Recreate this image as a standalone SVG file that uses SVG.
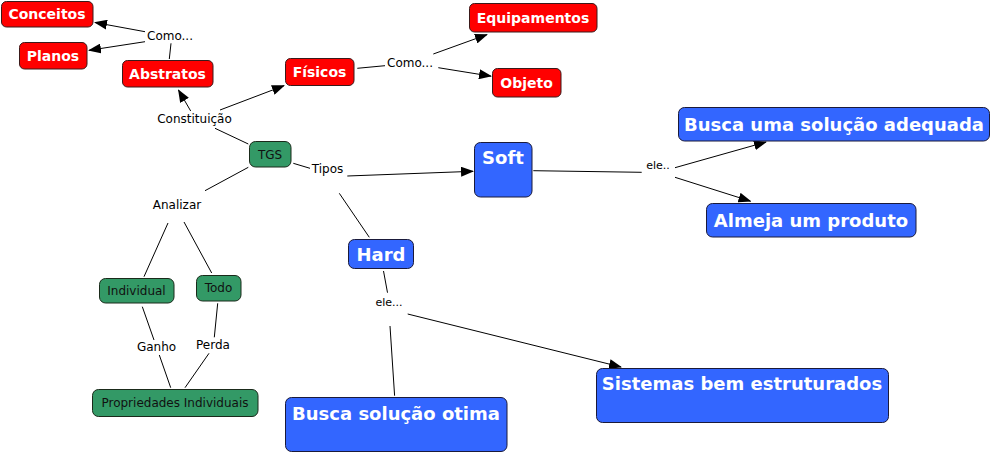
<svg xmlns="http://www.w3.org/2000/svg" width="995" height="455" viewBox="0 0 995 455">
<defs>
<marker id="ah" markerWidth="13" markerHeight="10" refX="12" refY="5" orient="auto" markerUnits="userSpaceOnUse">
<path d="M0,0 L13,5 L0,10 Z" fill="#000"/>
</marker>
</defs>
<style>
.red{fill:#ff0000;stroke:#3a1a1a;stroke-width:1}
.grn{fill:#339966;stroke:#1a2a1a;stroke-width:1}
.blu{fill:#3366ff;stroke:#1a1a3a;stroke-width:1}
.rt{font-family:"DejaVu Sans",Verdana,sans-serif;font-weight:bold;font-size:14px;fill:#fff;text-anchor:middle}
.bt{font-family:"DejaVu Sans",Verdana,sans-serif;font-weight:bold;font-size:18px;fill:#fff;text-anchor:middle}
.gt{font-family:"DejaVu Sans",Verdana,sans-serif;font-size:12px;fill:#111;text-anchor:middle}
.lt{font-family:"DejaVu Sans",Verdana,sans-serif;font-size:12px;fill:#000;text-anchor:middle}
.st{font-family:"DejaVu Sans",Verdana,sans-serif;font-size:11px;fill:#000;text-anchor:middle}
.ln{stroke:#000;stroke-width:1;fill:none}
.ar{stroke:#000;stroke-width:1;fill:none;marker-end:url(#ah)}
</style>
<rect width="995" height="455" fill="#fff"/>
<g id="connectors">
<line class="ln" x1="169.3" y1="59" x2="171" y2="43.3"/>
<line class="ar" x1="145" y1="31.7" x2="95" y2="22.5"/>
<line class="ar" x1="145" y1="41.7" x2="89" y2="50.3"/>
<line class="ln" x1="248.3" y1="144" x2="215" y2="128.3"/>
<line class="ar" x1="190.7" y1="111" x2="178.5" y2="90"/>
<line class="ar" x1="220" y1="110" x2="284" y2="85.7"/>
<line class="ln" x1="357.3" y1="68.3" x2="385" y2="65.7"/>
<line class="ar" x1="433.3" y1="54" x2="487" y2="34.6"/>
<line class="ar" x1="438.3" y1="67.7" x2="491" y2="76.2"/>
<line class="ln" x1="293.3" y1="163.3" x2="310" y2="168.3"/>
<line class="ar" x1="347.3" y1="176" x2="473" y2="171.3"/>
<line class="ln" x1="339.3" y1="193.3" x2="369.3" y2="237.3"/>
<line class="ln" x1="533.3" y1="170.7" x2="641.7" y2="172.3"/>
<line class="ar" x1="675" y1="167.7" x2="766" y2="142"/>
<line class="ar" x1="675" y1="177.3" x2="750.5" y2="201.2"/>
<line class="ln" x1="383.5" y1="271" x2="387.5" y2="292.7"/>
<line class="ln" x1="390" y1="326" x2="394.6" y2="395.7"/>
<line class="ar" x1="407.7" y1="314" x2="621" y2="367"/>
<line class="ln" x1="248.3" y1="167.3" x2="205" y2="190.7"/>
<line class="ln" x1="168" y1="223" x2="144" y2="276.7"/>
<line class="ln" x1="184" y1="222" x2="211.7" y2="273"/>
<line class="ln" x1="142.3" y1="306.7" x2="154" y2="340"/>
<line class="ln" x1="159.3" y1="355" x2="170.7" y2="387.7"/>
<line class="ln" x1="217.7" y1="303.3" x2="214.3" y2="337.3"/>
<line class="ln" x1="209" y1="353.3" x2="185" y2="387.7"/>
</g>
<g id="labels">
<text class="lt" x="170" y="40">Como...</text>
<text class="lt" x="194.5" y="122.5">Constituição</text>
<text class="lt" x="410" y="66.5">Como...</text>
<text class="lt" x="327.5" y="172.5">Tipos</text>
<text class="lt" x="177" y="209">Analizar</text>
<text class="st" x="658" y="169">ele..</text>
<text class="st" x="389" y="306">ele...</text>
<text class="lt" x="156.5" y="351">Ganho</text>
<text class="lt" x="213" y="349">Perda</text>
</g>
<g id="n-conceitos"><rect class="red" x="1.5" y="1.5" width="91.5" height="25.5" rx="5"/><text class="rt" x="47" y="19">Conceitos</text></g>
<g id="n-planos"><rect class="red" x="19.5" y="42.5" width="67.5" height="26.5" rx="5"/><text class="rt" x="53" y="60.5">Planos</text></g>
<g id="n-abstratos"><rect class="red" x="122.5" y="60.5" width="90.5" height="26.5" rx="5"/><text class="rt" x="167.5" y="78.5">Abstratos</text></g>
<g id="n-fisicos"><rect class="red" x="285.5" y="58.5" width="68.5" height="27" rx="5"/><text class="rt" x="319.5" y="77">Físicos</text></g>
<g id="n-equipamentos"><rect class="red" x="469.5" y="3.5" width="127.5" height="28.5" rx="5"/><text class="rt" x="533" y="22.5">Equipamentos</text></g>
<g id="n-objeto"><rect class="red" x="492.5" y="68.5" width="68.5" height="28.5" rx="5"/><text class="rt" x="526.5" y="87.5">Objeto</text></g>
<g id="n-tgs"><rect class="grn" x="249.5" y="141.5" width="41.5" height="25.5" rx="6"/><text class="gt" x="270" y="158.5">TGS</text></g>
<g id="n-soft"><rect class="blu" x="474.5" y="142.5" width="57.5" height="54.5" rx="6"/><text class="bt" x="503" y="164">Soft</text></g>
<g id="n-busca-adequada"><rect class="blu" x="678.5" y="107.5" width="311" height="33.5" rx="6"/><text class="bt" x="834" y="130.5">Busca uma solução adequada</text></g>
<g id="n-almeja"><rect class="blu" x="706.5" y="203.5" width="209.5" height="33.5" rx="6"/><text class="bt" x="811" y="226.5">Almeja um produto</text></g>
<g id="n-hard"><rect class="blu" x="348.5" y="239.5" width="65" height="29" rx="6"/><text class="bt" x="381" y="260.5">Hard</text></g>
<g id="n-sistemas"><rect class="blu" x="596.5" y="368.5" width="292" height="54" rx="6"/><text class="bt" x="742" y="390">Sistemas bem estruturados</text></g>
<g id="n-busca-otima"><rect class="blu" x="285.5" y="397.5" width="221.5" height="54" rx="6"/><text class="bt" x="396" y="420">Busca solução otima</text></g>
<g id="n-individual"><rect class="grn" x="99.5" y="278.5" width="74.5" height="24.5" rx="6"/><text class="gt" x="136.5" y="295">Individual</text></g>
<g id="n-todo"><rect class="grn" x="196.5" y="275.5" width="44.5" height="25.5" rx="6"/><text class="gt" x="218.5" y="292">Todo</text></g>
<g id="n-propriedades"><rect class="grn" x="92.5" y="389.5" width="165.5" height="27" rx="6"/><text class="gt" x="175" y="407">Propriedades Individuais</text></g>
</svg>
